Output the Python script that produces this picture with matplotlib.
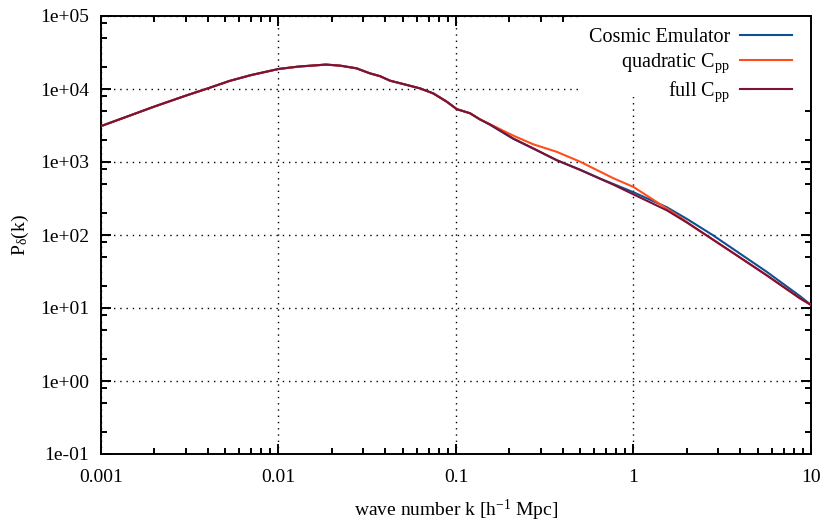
"""Matter power spectrum: Cosmic Emulator vs quadratic / full C_pp."""
import math

import matplotlib

matplotlib.use("Agg")
import matplotlib.pyplot as plt  # noqa: E402
from matplotlib.patches import Rectangle  # noqa: E402
from matplotlib.ticker import FixedLocator, FuncFormatter, NullFormatter  # noqa: E402


# shared low-k part (all three curves overlap here)
K_LOW = [0.001, 0.0015, 0.002, 0.003, 0.004, 0.0053, 0.007, 0.01, 0.013, 0.0185,
         0.0222, 0.0275, 0.0327, 0.0373, 0.0425, 0.0484, 0.0627, 0.0745, 0.0887,
         0.101, 0.12, 0.136]
P_LOW = [3100, 4450, 5750, 8100, 10200, 12900, 15500, 18800, 20300, 21600,
         20900, 19200, 16400, 15000, 13000, 12000, 10200, 8700, 6700,
         5300, 4650, 3850]

K_EMU = [0.156, 0.21, 0.272, 0.369, 0.5, 0.647, 0.769, 1.0, 1.54, 2.0, 2.79, 3.8, 5.6, 8.65, 10]
P_EMU = [3220, 2080, 1530, 1060, 785, 595, 500, 385, 240, 166, 100, 60, 31.6, 14.6, 11]

K_QUAD = [0.156, 0.21, 0.272, 0.369, 0.5, 0.769, 1.0, 1.41, 1.8, 2.37, 2.56, 3.8, 5.6, 8.65, 10]
P_QUAD = [3280, 2300, 1750, 1380, 1010, 600, 455, 265, 180, 113, 100, 53, 28.3, 13.6, 11]

K_FULL = [0.156, 0.21, 0.272, 0.369, 0.5, 0.647, 0.769, 1.0, 1.54, 2.0, 2.56, 3.8, 5.6, 8.65, 10]
P_FULL = [3250, 2100, 1540, 1060, 780, 590, 490, 360, 218, 148, 100, 53, 28.3, 13.6, 11]

LABELS = ["Cosmic Emulator", r"quadratic C$_{\mathrm{pp}}$", r"full C$_{\mathrm{pp}}$"]
COLORS = ["#0f4f94", "#ff4d1c", "#7c1236"]

X_TICKS = [0.001, 0.01, 0.1, 1, 10]
X_TICKLABELS = ["0.001", "0.01", "0.1", "1", "10"]
Y_EXPONENTS = [-1, 0, 1, 2, 3, 4, 5]


def _xfmt(v, _pos):
    for t, s in zip(X_TICKS, X_TICKLABELS):
        if math.isclose(v, t):
            return s
    return ""


def _yfmt(v, _pos):
    return f"1e{round(math.log10(v)):+03d}"


def main() -> int:
    plt.rcParams["font.family"] = ["Liberation Serif", "DejaVu Serif"]
    plt.rcParams["mathtext.fontset"] = "custom"
    plt.rcParams["mathtext.rm"] = "Liberation Serif"
    plt.rcParams["mathtext.it"] = "Liberation Serif"
    plt.rcParams["mathtext.default"] = "regular"
    plt.rcParams["font.size"] = 14

    fig = plt.figure(figsize=(8.26, 5.25), dpi=100)
    ax = fig.add_axes([101 / 826, 1 - 454 / 525, 710 / 826, 438 / 525])
    ax.set_xscale("log")
    ax.set_yscale("log")
    ax.set_xlim(0.001, 10)
    ax.set_ylim(0.1, 1e5)

    series = [(K_EMU, P_EMU), (K_QUAD, P_QUAD), (K_FULL, P_FULL)]
    for (ks, ps), label, color in zip(series, LABELS, COLORS):
        ax.plot(K_LOW + ks, P_LOW + ps, color=color, lw=1.5, label=label, zorder=3)

    ax.xaxis.set_major_locator(FixedLocator(X_TICKS))
    ax.xaxis.set_major_formatter(FuncFormatter(_xfmt))
    ax.xaxis.set_minor_locator(FixedLocator(
        [m * 10.0 ** e for e in range(-3, 1) for m in range(2, 10)]))
    ax.yaxis.set_major_locator(FixedLocator([10.0 ** e for e in Y_EXPONENTS]))
    ax.yaxis.set_major_formatter(FuncFormatter(_yfmt))
    ax.yaxis.set_minor_locator(FixedLocator(
        [m * 10.0 ** e for e in range(-1, 5) for m in (2, 5, 8)]))
    ax.xaxis.set_minor_formatter(NullFormatter())
    ax.yaxis.set_minor_formatter(NullFormatter())

    ax.tick_params(which="both", direction="in", top=True, right=True, width=1.4)
    ax.tick_params(axis="x", which="major", pad=11)
    ax.tick_params(axis="y", which="major", pad=8.5)
    ax.tick_params(which="major", length=7)
    ax.tick_params(which="minor", length=4)
    for sp in ax.spines.values():
        sp.set_linewidth(1.4)
    ax.grid(which="major", color="black", lw=1.0, ls=(0, (1, 3.5)))
    ax.set_axisbelow(True)

    ax.set_xlabel(r"wave number k [h$^{-1}$ Mpc]", labelpad=8.5)
    ax.set_ylabel(r"P$_{\delta}$(k)", labelpad=6.5)

    # opaque key area hides the grid behind the legend
    ax.add_patch(Rectangle((0.672, 0.815), 0.328, 0.185, transform=ax.transAxes,
                           facecolor="white", edgecolor="none", zorder=1))
    ax.legend(loc="upper right", bbox_to_anchor=(0.973, 0.973), markerfirst=False,
              frameon=False, borderaxespad=0, borderpad=0, handlelength=2.55,
              labelspacing=0.22, handletextpad=0.5, fontsize=14.5)

    fig.savefig("out.png", dpi=100)
    plt.close(fig)
    return 0


if __name__ == "__main__":
    raise SystemExit(main())
